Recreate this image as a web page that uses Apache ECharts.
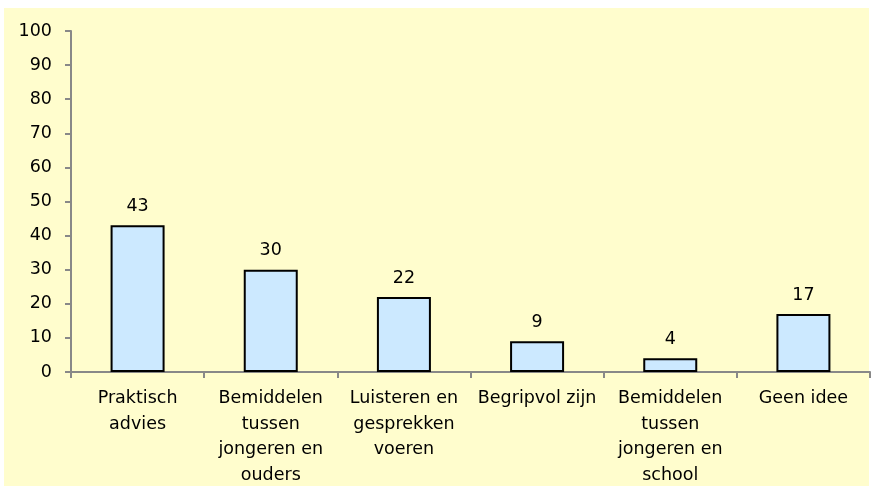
<!DOCTYPE html>
<html>
<head>
<meta charset="utf-8">
<script src="https://cdn.jsdelivr.net/npm/echarts@6/dist/echarts.min.js"></script>
<style>
  html, body { margin: 0; padding: 0; background: #ffffff; }
  #frame { position: absolute; left: 4px; top: 8px; width: 865px; height: 478px; background: #FFFDCD; }
  #chart { position: absolute; left: 0; top: 0; width: 873px; height: 491px; }
</style>
</head>
<body>
<div id="frame"></div>
<div id="chart"></div>
<script>
// categories and values
var categories = [
  'Praktisch\nadvies',
  'Bemiddelen\ntussen\njongeren en\nouders',
  'Luisteren en\ngesprekken\nvoeren',
  'Begripvol zijn',
  'Bemiddelen\ntussen\njongeren en\nschool',
  'Geen idee'
];
var values = [43, 30, 22, 9, 4, 17];

var myChart = echarts.init(document.getElementById('chart'));
var font = 'DejaVu Sans';

myChart.setOption({
  animation: false,
  backgroundColor: 'transparent',
  grid: { left: 71, right: 3, top: 31, bottom: 119 },
  xAxis: {
    type: 'category',
    data: categories,
    boundaryGap: true,
    axisLine: { lineStyle: { color: '#888888', width: 2 } },
    axisTick: { show: true, length: 6, lineStyle: { color: '#888888', width: 2 } },
    axisLabel: {
      interval: 0,
      color: '#000',
      fontFamily: font,
      fontSize: 17.5,
      lineHeight: 25.5,
      margin: 14
    }
  },
  yAxis: {
    type: 'value',
    min: 0,
    max: 100,
    interval: 10,
    splitLine: { show: false },
    axisLine: { show: true, lineStyle: { color: '#888888', width: 2 } },
    axisTick: { show: true, length: 6, lineStyle: { color: '#888888', width: 2 } },
    axisLabel: { color: '#000', fontFamily: font, fontSize: 17.5, margin: 19 }
  },
  series: [{
    type: 'bar',
    data: values,
    barWidth: 54,
    itemStyle: { color: '#CCE9FF', borderColor: '#000', borderWidth: 2 },
    label: {
      show: true,
      position: 'top',
      distance: 10,
      color: '#000',
      fontFamily: font,
      fontSize: 17.5
    }
  }]
});
</script>
</body>
</html>
